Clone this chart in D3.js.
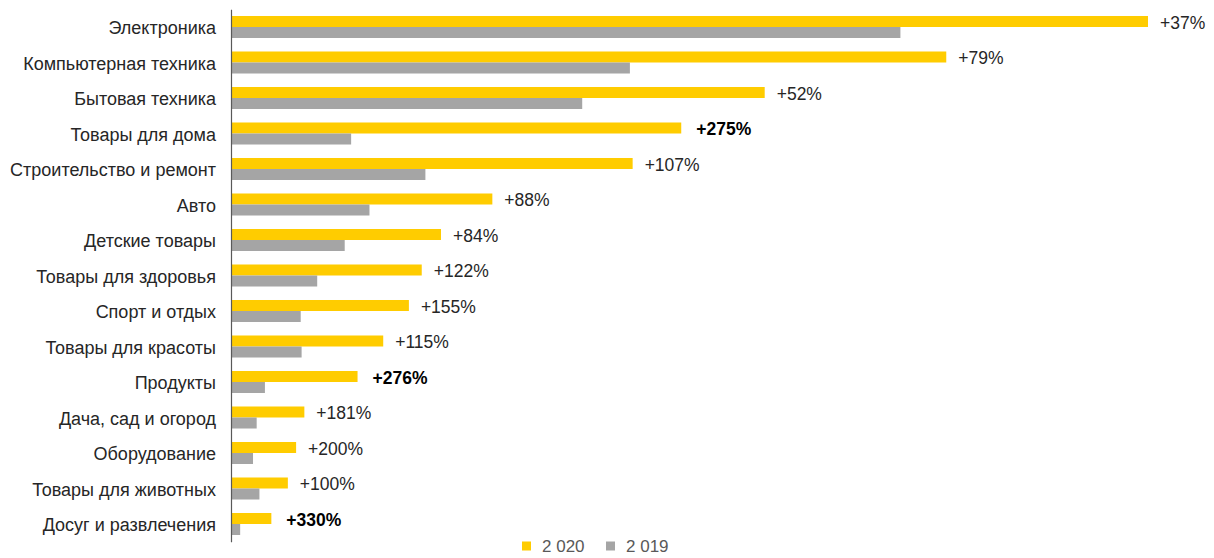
<!DOCTYPE html>
<html>
<head>
<meta charset="utf-8">
<script src="https://cdn.jsdelivr.net/npm/d3@7"></script>
<style>
  html, body { margin: 0; padding: 0; background: #fff; }
  svg { display: block; font-family: "Liberation Sans", Arial, sans-serif; }
</style>
</head>
<body>
<svg id="chart" width="1214" height="558"></svg>
<script>
// Categories, top to bottom
const categories = [
  "Электроника",
  "Компьютерная техника",
  "Бытовая техника",
  "Товары для дома",
  "Строительство и ремонт",
  "Авто",
  "Детские товары",
  "Товары для здоровья",
  "Спорт и отдых",
  "Товары для красоты",
  "Продукты",
  "Дача, сад и огород",
  "Оборудование",
  "Товары для животных",
  "Досуг и развлечения"
];

// Relative volume, index (Электроника 2020 = 100)
const values2020 = [100, 78.0, 58.2, 49.1, 43.8, 28.5, 22.9, 20.8, 19.4, 16.6, 13.8, 8.0, 7.1, 6.2, 4.4];
const values2019 = [73.0, 43.5, 38.3, 13.1, 21.2, 15.1, 12.4, 9.4, 7.6, 7.7, 3.7, 2.8, 2.4, 3.1, 1.0];

// Growth labels and which of them are highlighted
const growthLabels = ["+37%", "+79%", "+52%", "+275%", "+107%", "+88%", "+84%", "+122%", "+155%", "+115%", "+276%", "+181%", "+200%", "+100%", "+330%"];
const growthBold = [false, false, false, true, false, false, false, false, false, false, true, false, false, false, true];

const seriesNames = ["2 020", "2 019"];
const colors = ["#FFCC00", "#A5A5A5"];

const svg = d3.select("#chart");
const x0 = 231;

const y = d3.scaleBand()
  .domain(categories)
  .range([9.25, 541.75])
  .paddingInner(0.38)
  .paddingOuter(0.19);

const x = d3.scaleLinear()
  .domain([0, 100])
  .range([x0, 1148]);

const sub = d3.scaleBand()
  .domain([0, 1])
  .range([0, y.bandwidth()]);

const rows = categories.map((c, i) => ({
  cat: c, v: [values2020[i], values2019[i]], label: growthLabels[i], bold: growthBold[i]
}));

const g = svg.append("g");

const row = g.selectAll("g.row")
  .data(rows)
  .join("g")
  .attr("class", "row")
  .attr("transform", d => `translate(0,${y(d.cat)})`);

row.selectAll("rect")
  .data(d => d.v.map((v, k) => ({ v, k })))
  .join("rect")
  .attr("x", x(0))
  .attr("y", d => sub(d.k))
  .attr("width", d => x(d.v) - x(0))
  .attr("height", sub.bandwidth())
  .attr("fill", d => colors[d.k]);

// Growth labels next to 2020 bars
row.append("text")
  .attr("x", d => x(d.v[0]) + (d.bold ? 15 : 12))
  .attr("y", sub(0) + sub.bandwidth() / 2 + 1)
  .attr("dy", "0.35em")
  .attr("font-size", 17.5)
  .attr("font-weight", d => d.bold ? "bold" : "normal")
  .attr("fill", d => d.bold ? "#000" : "#262626")
  .text(d => d.label);

// Category axis
const axis = d3.axisLeft(y).tickSize(0).tickPadding(15);
const ax = svg.append("g")
  .attr("transform", `translate(${x0},0)`)
  .call(axis);
ax.select(".domain").attr("stroke", "#595959").attr("stroke-width", 1.2);
ax.selectAll(".tick text")
  .attr("font-size", 18)
  .attr("dy", "0.4em")
  .attr("font-family", "'Liberation Sans', Arial, sans-serif")
  .attr("fill", "#262626");

// Legend
const legend = svg.append("g").attr("transform", "translate(522,546)");
const legItems = legend.selectAll("g")
  .data(seriesNames)
  .join("g")
  .attr("transform", (d, i) => `translate(${i * 84},0)`);
legItems.append("rect")
  .attr("x", 0).attr("y", -4.5)
  .attr("width", 9).attr("height", 9)
  .attr("fill", (d, i) => colors[i]);
legItems.append("text")
  .attr("x", 20)
  .attr("dy", "0.35em")
  .attr("font-size", 17)
  .attr("fill", "#595959")
  .text(d => d);
</script>
</body>
</html>
